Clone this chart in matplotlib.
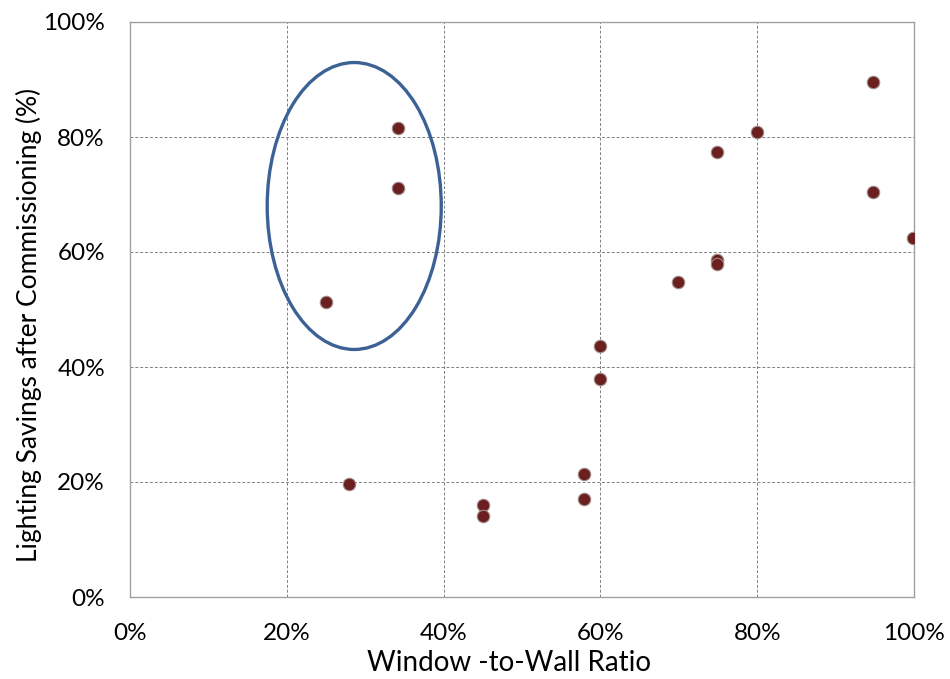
import matplotlib
matplotlib.use("Agg")
import matplotlib.pyplot as plt
from matplotlib.patches import Ellipse
from matplotlib.ticker import PercentFormatter

plt.rcParams['font.family'] = ['Lato', 'DejaVu Sans']

wwr = [25.0, 27.9, 34.2, 34.2, 45.0, 45.0, 57.9, 57.9, 60.0, 60.0,
       69.9, 74.9, 74.9, 74.9, 80.0, 94.8, 94.8, 99.9]
savings = [51.3, 19.7, 81.6, 71.1, 16.0, 14.1, 21.4, 17.0, 43.7, 37.9,
           54.8, 77.4, 58.6, 57.9, 80.9, 89.6, 70.4, 62.4]

ellipse_center = (28.6, 68.0)
ellipse_w, ellipse_h = 22.2, 49.9

x_ticks = [0, 20, 40, 60, 80, 100]
y_ticks = [0, 20, 40, 60, 80, 100]

fig = plt.figure(figsize=(9.5, 6.79), dpi=100)
ax = fig.add_axes([130/950, 82/679, 784/950, 575/679])

ax.scatter(wwr, savings, s=80, color='#6B1F1F', edgecolors='#A08A8A',
           linewidths=0.8, zorder=3)
ax.add_patch(Ellipse(ellipse_center, ellipse_w, ellipse_h, fill=False,
                     edgecolor='#3C6295', linewidth=2.4, zorder=4))

ax.set_xlim(0, 100)
ax.set_ylim(0, 100)
ax.set_xticks(x_ticks)
ax.set_yticks(y_ticks)
ax.xaxis.set_major_formatter(PercentFormatter(decimals=0))
ax.yaxis.set_major_formatter(PercentFormatter(decimals=0))
ax.tick_params(length=0, labelsize=17.5, colors='black')
ax.tick_params(axis='x', pad=19)
ax.tick_params(axis='y', pad=18)
ax.grid(True, color='#808080', linestyle=(0, (3, 2)), linewidth=0.7)
ax.set_axisbelow(True)
for sp in ax.spines.values():
    sp.set_color('#A0A0A0')
    sp.set_linewidth(1.0)

ax.set_xlabel('Window -to-Wall Ratio', fontsize=20)
ax.set_ylabel('Lighting Savings after Commissioning (%)', fontsize=19)
ax.xaxis.set_label_coords(0.483, -0.092)
ax.yaxis.set_label_coords(-0.112, 0.473)

fig.savefig('out.png', dpi=100)
